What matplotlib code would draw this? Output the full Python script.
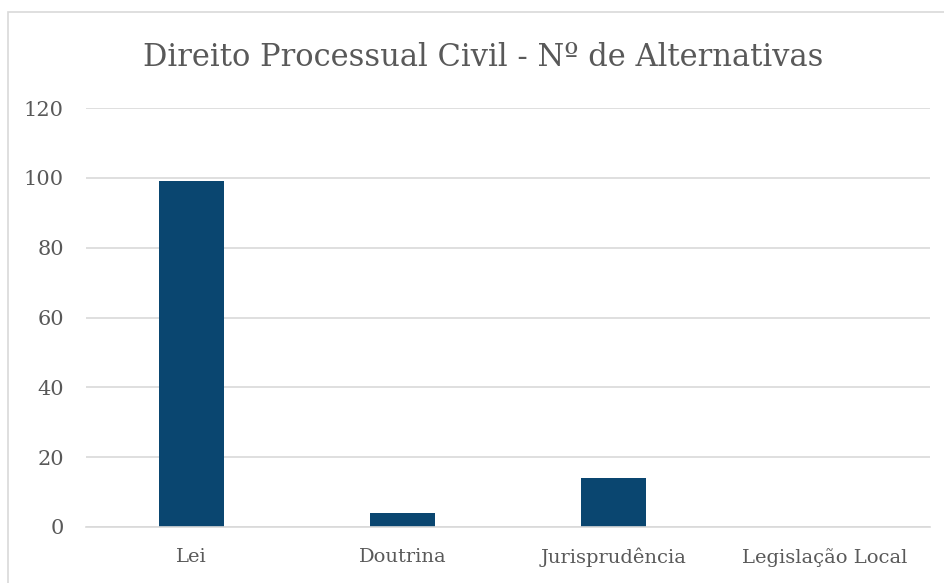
import matplotlib
matplotlib.use('Agg')
import matplotlib.pyplot as plt
from matplotlib.patches import Rectangle
import numpy as np

plt.rcParams.update({
    'font.family': ['DejaVu Serif'],
    'text.color': '#595959',
    'xtick.color': '#595959',
    'ytick.color': '#595959',
})

CATEGORIES = ['Lei', 'Doutrina', 'Jurisprudência', 'Legislação Local']
VALUES = [99, 4, 14, 0]
TITLE = 'Direito Processual Civil - Nº de Alternativas'

BAR = '#0A4670'
GRID = '#D9D9D9'

W, H = 944, 583
fig = plt.figure(figsize=(W / 100, H / 100), dpi=100)
ax = fig.add_axes([86 / W, 1 - 527 / H, (930 - 86) / W, (527 - 108) / H])

x = np.arange(len(CATEGORIES))
ax.bar(x, VALUES, width=0.31, color=BAR, zorder=2)

ax.set_xlim(-0.5, len(CATEGORIES) - 0.5)
ax.set_ylim(0, 120)
ax.set_yticks(np.arange(0, 121, 20))
ax.set_xticks(x)
ax.set_xticklabels(CATEGORIES, fontsize=14)
ax.tick_params(axis='y', labelsize=15, length=0, pad=16)
ax.tick_params(axis='x', length=0, pad=15)
ax.grid(axis='y', color=GRID, linewidth=1.2, zorder=0)
for s in ['top', 'right', 'left']:
    ax.spines[s].set_visible(False)
ax.spines['bottom'].set_color(GRID)
ax.spines['bottom'].set_linewidth(1.2)

fig.text(483 / W, 1 - 57 / H, TITLE, ha='center', va='center', fontsize=22, color='#595959')

# chart frame (right and bottom edges fall outside the image)
fig.patches.append(Rectangle((7.5 / W, -0.1), 1.2, 1 - 12.5 / H + 0.1,
                             transform=fig.transFigure, fill=False,
                             edgecolor=GRID, linewidth=1.2))

fig.savefig('out.png', dpi=100, facecolor='white')
